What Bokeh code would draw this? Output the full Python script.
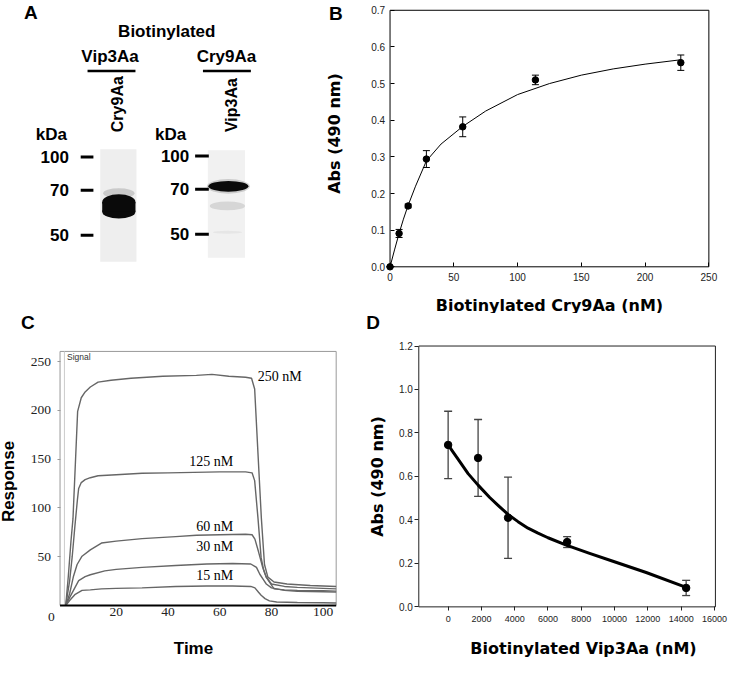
import math
from bokeh.plotting import figure
from bokeh.models import (Range1d, Label, Whisker, ColumnDataSource, FixedTicker,
                          PrintfTickFormatter, TeeHead)
from bokeh.layouts import column, row
from bokeh.embed import file_html
from bokeh.resources import INLINE
from bokeh.core.properties import value

SANS = "Liberation Sans"
SERIF = "Liberation Serif"
WIDE = "DejaVu Sans"
S = 0.978  # page scale

# ---------------- Panel A (western blot) ----------------
kda_labels = ["100", "70", "50"]
kda_left_pos = [160, 194, 240]      # migration position, left blot
kda_right_pos = [159, 193, 239]     # migration position, right blot
probe_names = ["Vip3Aa", "Cry9Aa"]  # biotinylated probes
sample_names = ["Cry9Aa", "Vip3Aa"] # lane samples

# ---------------- Panel B ----------------
b_conc = [0, 7.1, 14.2, 28.5, 57, 114, 228]
b_abs = [0.0, 0.091, 0.166, 0.294, 0.382, 0.510, 0.557]
b_err = [0.0, 0.011, 0.005, 0.023, 0.027, 0.013, 0.021]
b_fit_x = [0, 3.5, 7, 10.5, 14, 20, 28.5, 40, 57, 75, 100, 125, 150, 175, 200, 228]
b_fit_y = [0, 0.046, 0.090, 0.130, 0.166, 0.220, 0.289, 0.335, 0.383, 0.425,
           0.470, 0.500, 0.523, 0.540, 0.553, 0.565]
b_xticks = [0, 50, 100, 150, 200, 250]
b_yticks = [0, 0.1, 0.2, 0.3, 0.4, 0.5, 0.6, 0.7]

# ---------------- Panel C (sensorgram) ----------------
c250_t = [0.5, 1.5, 2.5, 3.3, 4.3, 5.1, 6.5, 8, 10, 13, 18, 25.7, 38, 51, 57, 63.5, 70,
          72.3, 73.5, 74.8, 76.1, 77.3, 78.6, 81, 86, 95, 105]
c250_r = [0, 30, 65, 89, 150, 199, 213, 219, 224, 229, 231, 233, 235, 236, 237, 235, 234,
          233, 222, 155, 89, 42, 29, 24, 22, 20.5, 19.5]
c125_t = [0.5, 2, 3, 4, 5, 5.5, 6.5, 8, 10, 13, 20, 30, 40, 50, 60, 70, 72.5, 73.5, 74.8,
          76, 77, 78, 80, 85, 90, 100, 105]
c125_r = [0, 25, 50, 80, 108, 120, 126, 129, 131, 133, 134, 135.5, 136, 136.5, 137, 137,
          136, 128, 89, 49, 36, 29, 22, 19.5, 18.5, 17.5, 17]
c60_t = [0.5, 2, 3.5, 4.9, 6.8, 10, 14.3, 20, 30, 43, 51, 60, 70, 72.5, 73.6, 75, 76.5, 78,
         81, 85, 90, 100, 105]
c60_r = [0, 12, 30, 42, 50.5, 57, 64, 66, 68.5, 70.6, 72, 72.5, 73, 72.5, 68, 55, 40, 28.8,
         17, 16, 15.5, 15, 14.7]
c30_t = [0.5, 2, 4, 5.5, 8, 10, 15.6, 20, 30, 43, 55, 65, 72, 74.2, 75.5, 77, 78, 80, 85,
         90, 100, 105]
c30_r = [0, 8, 18, 25.5, 29.5, 31.5, 35.5, 37, 39, 41, 42.5, 43, 42.5, 39, 32, 26, 22, 18,
         15.5, 14.5, 14, 13.7]
c15_t = [0.5, 2, 4, 6.8, 10, 14.3, 20, 30, 43, 55, 65, 72, 73.6, 75, 76, 77.5, 79.2, 82, 90,
         100, 105]
c15_r = [0, 5, 11, 15.4, 16, 17, 17.5, 18, 19.5, 20, 20, 19.5, 18, 13.5, 10.4, 7, 4.7, 3.5,
         3, 2.7, 2.5]
c_labels = ["250 nM", "125 nM", "60 nM", "30 nM", "15 nM"]
c_label_t = [74.7, 65.2, 65.2, 65.2, 65.2]
c_label_r = [234.4, 147.4, 80.6, 60.6, 30.5]
c_xticks = [20, 40, 60, 80, 100]
c_yticks = [50, 100, 150, 200, 250]

# ---------------- Panel D ----------------
d_conc = [0, 1800, 3600, 7150, 14300]
d_abs = [0.745, 0.685, 0.410, 0.298, 0.087]
d_err = [0.155, 0.177, 0.187, 0.025, 0.035]
d_fit_x = [0, 300, 700, 1200, 1800, 2500, 3000, 3600, 4200, 4800, 5400, 6000, 7100, 8500,
           9900, 11900, 14300]
d_fit_y = [0.745, 0.712, 0.668, 0.613, 0.560, 0.503, 0.467, 0.425, 0.392, 0.362, 0.339,
           0.318, 0.284, 0.246, 0.210, 0.158, 0.090]
d_xticks = list(range(0, 16001, 2000))
d_yticks = [0, 0.2, 0.4, 0.6, 0.8, 1.0, 1.2]


class Map:
    """Maps reference-picture pixels to data units for one panel; gives full-canvas ranges."""
    def __init__(self, fx, fy, w, h, xcal, ycal):
        (dx0, px0), (dx1, px1) = xcal
        (dy0, py0), (dy1, py1) = ycal
        self.kx = (dx1 - dx0) / (px1 - px0)
        self.ky = (dy1 - dy0) / (py0 - py1)
        self.dx0, self.px0, self.dy0, self.py0 = dx0, px0, dy0, py0
        self.xr = (self.xd(fx), self.xd(fx + w / S))
        self.yr = (self.yd(fy + h / S), self.yd(fy))

    def xd(self, px):
        return self.dx0 + (px - self.px0) * self.kx

    def yd(self, py):
        return self.dy0 + (self.py0 - py) * self.ky


def full_fig(w, h, m):
    p = figure(width=w, height=h, x_range=Range1d(*m.xr), y_range=Range1d(*m.yr),
               output_backend="svg", toolbar_location=None, min_border=0)
    p.min_border_left = p.min_border_right = p.min_border_top = p.min_border_bottom = 0
    p.grid.visible = False
    p.outline_line_color = None
    p.background_fill_color = "white"
    p.border_fill_color = "white"
    return p


def style_axes(p, tick_font, tick_size, title_font, title_size):
    for ax in p.axis:
        ax.minor_tick_line_color = None
        ax.major_label_text_font = tick_font
        ax.major_label_text_font_size = tick_size
        ax.major_label_text_color = "#222222"
        ax.axis_label_text_font = title_font
        ax.axis_label_text_font_style = "bold"
        ax.axis_label_text_font_size = title_size
        ax.axis_label_text_color = "black"


def panel_label(p, txt, x, y):
    p.add_layout(Label(x=x, y=y, text=txt, text_font=SANS, text_font_style="bold",
                       text_font_size="19px", text_align="center",
                       text_baseline="middle", text_color="black"))


# ================= A =================
pA = figure(width=325, height=313, x_range=Range1d(0, 325 / S), y_range=Range1d(313 / S, 0),
            output_backend="svg", toolbar_location=None, x_axis_type=None,
            y_axis_type=None, min_border=0)
pA.grid.visible = False
pA.outline_line_color = None
pA.border_fill_color = "white"

# lane backgrounds
pA.quad(left=[102, 212], right=[139, 250], top=[152, 153], bottom=[267, 263],
        fill_color=["#eeeeee", "#f1f1f1"], line_color=None)
# left lane: broad dark band (rounded block) with a faint smear above it
pA.ellipse(x=[121], y=[197], width=[32], height=[10], fill_color="#888888",
           fill_alpha=0.35, line_color=None)
pA.ellipse(x=[121, 121], y=[206, 216], width=[34, 34], height=[16, 14],
           fill_color="#0a0a0a", line_color=None)
pA.quad(left=[104], right=[138], top=[206], bottom=[216], fill_color="#0a0a0a",
        line_color=None)
# right lane: sharp band plus faint lower bands
pA.ellipse(x=[233, 233, 232, 232], y=[190, 190, 210, 237], width=[44, 41, 36, 30],
           height=[15, 11, 9, 3],
           fill_color=["#888888", "#0a0a0a", "#d6d6d6", "#e6e6e6"],
           fill_alpha=[0.35, 1, 1, 1], line_color=None)

pA.segment(x0=[82] * 3, x1=[95] * 3, y0=kda_left_pos, y1=kda_left_pos,
           line_color="black", line_width=3)
pA.segment(x0=[199] * 3, x1=[213] * 3, y0=kda_right_pos, y1=kda_right_pos,
           line_color="black", line_width=3)
pA.text(x=[70] * 3, y=kda_left_pos, text=kda_labels, text_font=value(SANS),
        text_font_style="bold", text_font_size="17px", text_align="right",
        text_baseline="middle")
pA.text(x=[193] * 3, y=kda_right_pos, text=kda_labels, text_font=value(SANS),
        text_font_style="bold", text_font_size="17px", text_align="right",
        text_baseline="middle")
pA.text(x=[52, 174], y=[137, 137], text=["kDa", "kDa"], text_font=value(SANS),
        text_font_style="bold", text_font_size="17px", text_align="center",
        text_baseline="middle")
pA.text(x=[170], y=[32], text=["Biotinylated"], text_font=value(SANS),
        text_font_style="bold", text_font_size="17px", text_align="center",
        text_baseline="middle")
pA.text(x=[112, 231], y=[57, 57], text=probe_names, text_font=value(SANS),
        text_font_style="bold", text_font_size="17px", text_align="center",
        text_baseline="middle")
pA.segment(x0=[89, 207], x1=[138, 256], y0=[72, 72], y1=[72, 72],
           line_color="black", line_width=2.5)
pA.text(x=[120, 236], y=[106, 107], text=sample_names, text_font=value(SANS),
        text_font_style="bold", text_font_size="16px", text_align="center",
        text_baseline="middle", angle=math.pi / 2)
panel_label(pA, "A", 31, 12)

# ================= B =================
mB = Map(325 / S, 0, 404, 313, ((0, 398.3), (250, 724.3)), ((0, 272.3), (0.7, 10)))
pB = full_fig(404, 313, mB)
pB.quad(left=[0], right=[250], bottom=[0], top=[0.7], fill_color=None,
        line_color="black", line_width=1)
pB.line(b_fit_x, b_fit_y, line_color="black", line_width=1)
srcB = ColumnDataSource(dict(x=b_conc, y=b_abs,
                             upper=[a + e for a, e in zip(b_abs, b_err)],
                             lower=[a - e for a, e in zip(b_abs, b_err)]))
pB.add_layout(Whisker(base="x", upper="upper", lower="lower", source=srcB,
                      line_color="black", line_width=1,
                      upper_head=TeeHead(size=7, line_color="black", line_width=1),
                      lower_head=TeeHead(size=7, line_color="black", line_width=1)))
pB.scatter("x", "y", source=srcB, size=6.5, fill_color="black", line_color="black")
pB.xaxis.ticker = FixedTicker(ticks=b_xticks)
pB.yaxis.ticker = FixedTicker(ticks=b_yticks)
pB.yaxis.formatter = PrintfTickFormatter(format="%.1f")
style_axes(pB, SANS, "10px", WIDE, "16px")
for ax in pB.axis:
    ax.major_tick_in = 4
    ax.major_tick_out = 0
    ax.major_tick_line_color = "black"
    ax.axis_line_color = None
pB.xaxis.fixed_location = 0
pB.yaxis.fixed_location = 0
pB.xaxis.bounds = (0, 250)
pB.yaxis.bounds = (0, 0.7488)
pB.xaxis.major_label_standoff = 6
pB.yaxis.major_label_standoff = 5
pB.xaxis.axis_label = "Biotinylated Cry9Aa (nM)"
pB.yaxis.axis_label = "Abs (490 nm)"
pB.xaxis.axis_label_standoff = 12
pB.yaxis.axis_label_standoff = 25
panel_label(pB, "B", mB.xd(343), mB.yd(13))

# ================= C =================
mC = Map(0, 313 / S, 365, 349, ((20, 118.3), (100, 330)), ((250, 369.3), (50, 568.7)))
pC = full_fig(365, 349, mC)
c_box = (-1.7, 105, 0, 260.5)
pC.segment(x0=[c_box[0], c_box[0], c_box[1]], y0=[c_box[2], c_box[3], c_box[2]],
           x1=[c_box[0], c_box[1], c_box[1]], y1=[c_box[3], c_box[3], c_box[3]],
           line_color="#999999", line_width=1)
pC.segment(x0=[0], y0=[0], x1=[0], y1=[c_box[3]], line_color="#cccccc", line_width=1)
for t, r in [(c250_t, c250_r), (c125_t, c125_r), (c60_t, c60_r), (c30_t, c30_r),
             (c15_t, c15_r)]:
    pC.line(t, r, line_color="#666666", line_width=1.4)
pC.segment(x0=[c_box[0]], y0=[0], x1=[c_box[1]], y1=[0], line_color="black", line_width=2)
pC.text(x=c_label_t[:1], y=c_label_r[:1], text=c_labels[:1], text_font=value(SERIF),
        text_font_size="14px", text_align="left", text_baseline="middle")
pC.text(x=c_label_t[1:], y=c_label_r[1:], text=c_labels[1:],
        text_font=value(SERIF), text_font_size="14px", text_align="right",
        text_baseline="middle")
pC.add_layout(Label(x=1.0, y=254.5, text="Signal", text_font=SANS, text_font_size="8.5px",
                    text_color="#333333", text_align="left", text_baseline="middle"))
pC.add_layout(Label(x=mC.xd(52), y=mC.yd(630), text="0", text_font=SERIF,
                    text_font_size="13.5px", text_color="#222222", text_align="center",
                    text_baseline="middle"))
pC.xaxis.ticker = FixedTicker(ticks=c_xticks)
pC.yaxis.ticker = FixedTicker(ticks=c_yticks)
style_axes(pC, SERIF, "13.5px", SANS, "17px")
pC.xaxis.major_tick_in = 0
pC.xaxis.major_tick_out = 0
pC.xaxis.axis_line_color = None
pC.yaxis.major_tick_in = 0
pC.yaxis.major_tick_out = 3
pC.yaxis.major_tick_line_color = "#999999"
pC.yaxis.axis_line_color = None
pC.xaxis.fixed_location = 0
pC.yaxis.fixed_location = c_box[0]
pC.xaxis.bounds = (c_box[0], 101.1)
pC.yaxis.bounds = (0, 254.2)
pC.xaxis.major_label_standoff = 3
pC.yaxis.major_label_standoff = 6
pC.xaxis.axis_label = "Time"
pC.yaxis.axis_label = "Response"
pC.xaxis.axis_label_standoff = 19
pC.yaxis.axis_label_standoff = 10
panel_label(pC, "C", mC.xd(28), mC.yd(329))

# ================= D =================
mD = Map(365 / S, 313 / S, 364, 349, ((0, 457.7), (16000, 730)), ((0, 620), (1.2, 353.3)))
pD = full_fig(364, 349, mD)
pD.quad(left=[mD.xd(427.7)], right=[mD.xd(731)], bottom=[0], top=[1.2], fill_color=None,
        line_color="#222222", line_width=1)
pD.line(d_fit_x, d_fit_y, line_color="black", line_width=3, line_join="round")
srcD = ColumnDataSource(dict(x=d_conc, y=d_abs,
                             upper=[a + e for a, e in zip(d_abs, d_err)],
                             lower=[a - e for a, e in zip(d_abs, d_err)]))
pD.add_layout(Whisker(base="x", upper="upper", lower="lower", source=srcD,
                      line_color="#444444", line_width=1.3,
                      upper_head=TeeHead(size=8, line_color="#444444", line_width=1.3),
                      lower_head=TeeHead(size=8, line_color="#444444", line_width=1.3)))
pD.scatter("x", "y", source=srcD, size=7.5, fill_color="black", line_color="black")
pD.xaxis.ticker = FixedTicker(ticks=d_xticks)
pD.yaxis.ticker = FixedTicker(ticks=d_yticks)
pD.yaxis.formatter = PrintfTickFormatter(format="%.1f")
pD.xaxis.formatter = PrintfTickFormatter(format="%d")
style_axes(pD, SANS, "10px", WIDE, "16px")
pD.xaxis.major_label_text_font_size = "9px"
for ax in pD.axis:
    ax.major_tick_in = 0
    ax.major_tick_out = 4
    ax.major_tick_line_color = "#222222"
    ax.axis_line_color = None
pD.xaxis.fixed_location = 0
pD.yaxis.fixed_location = mD.xd(427.7)
pD.xaxis.bounds = (0, 16252)
pD.yaxis.bounds = (0, 1.2)
pD.xaxis.major_label_standoff = 5
pD.yaxis.major_label_standoff = 2
pD.xaxis.axis_label = "Biotinylated Vip3Aa (nM)"
pD.yaxis.axis_label = "Abs (490 nm)"
pD.xaxis.axis_label_standoff = 14
pD.yaxis.axis_label_standoff = 9
panel_label(pD, "D", mD.xd(381), mD.yd(329))

layout = column(row(pA, pB), row(pC, pD))
open("out.html", "w").write(file_html(layout, INLINE))
